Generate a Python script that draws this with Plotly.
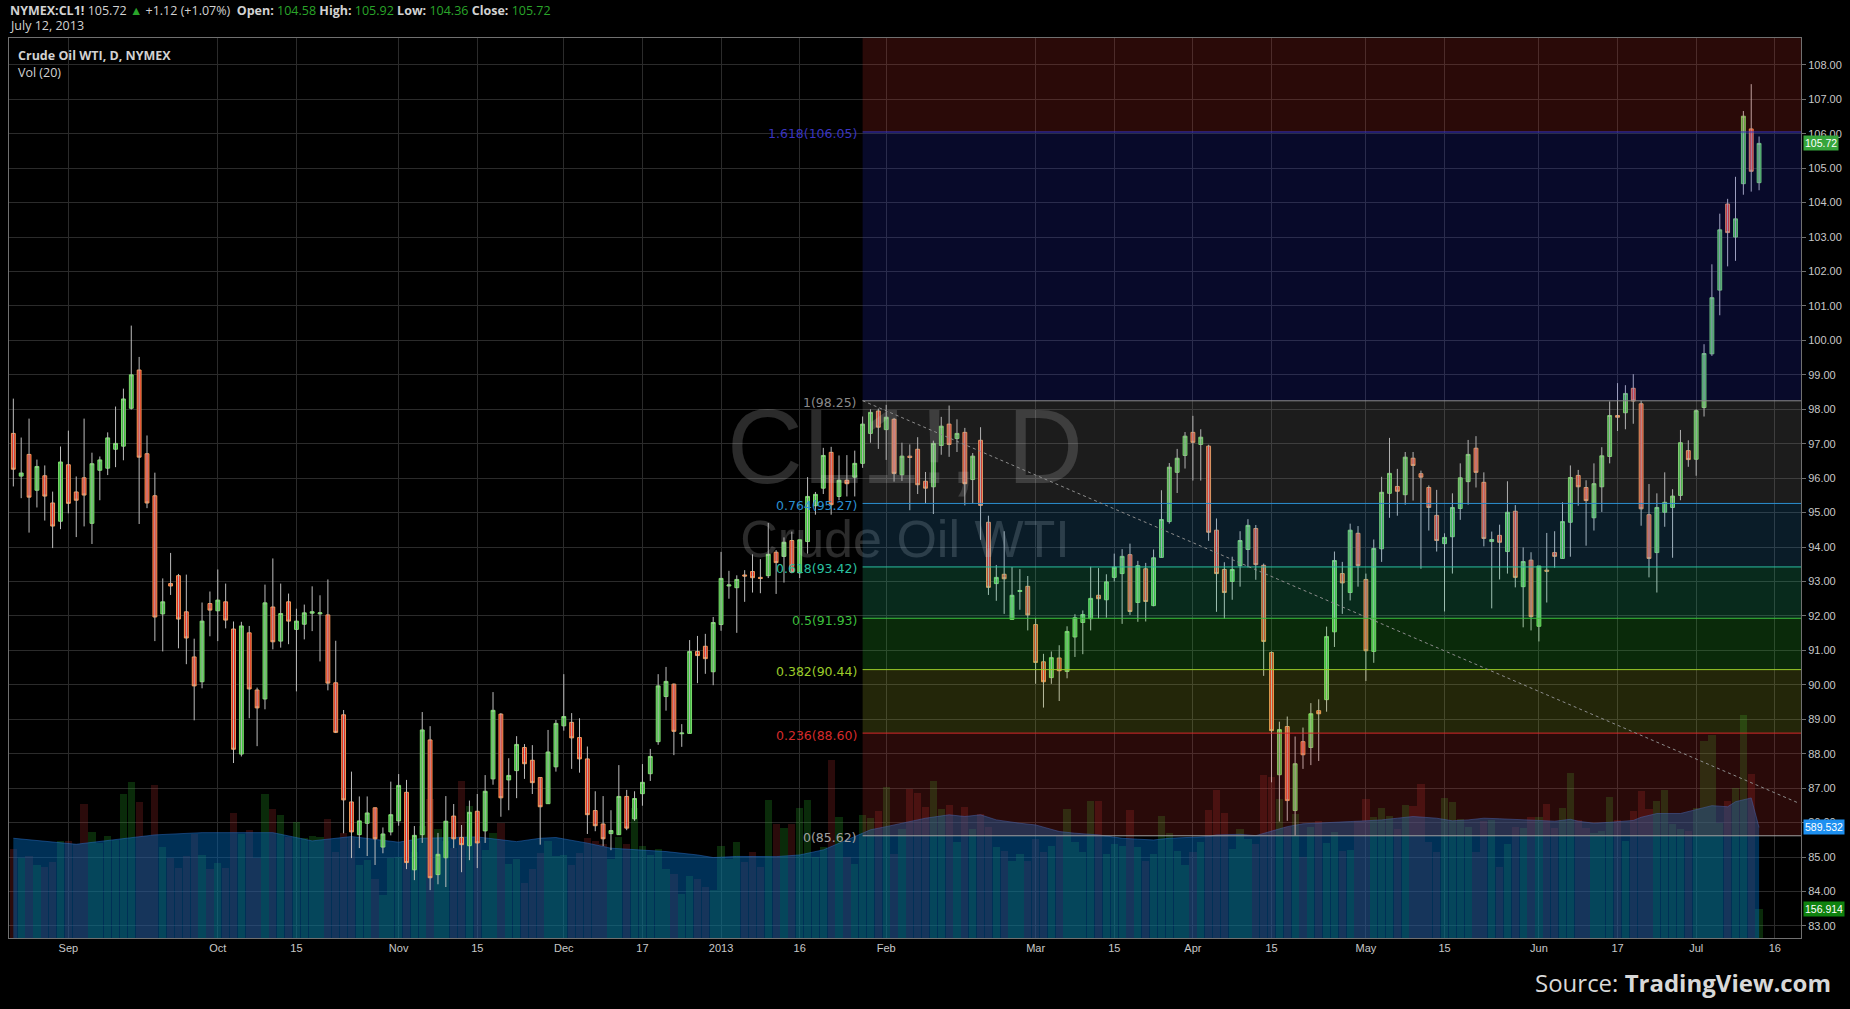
import numpy as np
import pandas as pd
import plotly.graph_objects as go

# trading calendar (NYMEX sessions), used for the bar positions and the date ticks
holidays = ["2012-09-03", "2012-11-22", "2012-12-25", "2013-01-01", "2013-01-21",
            "2013-02-18", "2013-03-29", "2013-05-27", "2013-07-04"]
sessions = [d.strftime("%Y-%m-%d") for d in pd.bdate_range("2012-08-23", "2013-07-31")
            if d.strftime("%Y-%m-%d") not in holidays]
bar_of = {d: i for i, d in enumerate(sessions)}

# daily OHLC, 2012-08-23 .. 2013-07-12
opens = [
    97.30, 96.06, 96.69, 95.65, 96.07, 95.28, 94.75, 96.39, 95.60, 96.01,
    94.69, 96.23, 96.29, 96.84, 96.93, 98.03, 99.14, 96.71, 95.49, 92.06,
    92.94, 93.17, 92.12, 90.81, 90.09, 92.36, 92.15, 92.41, 91.62, 87.99,
    91.51, 89.85, 89.59, 92.26, 91.27, 92.41, 91.61, 91.76, 92.08, 92.06,
    92.03, 90.06, 89.13, 86.60, 85.65, 85.98, 86.43, 85.29, 85.73, 86.05,
    86.88, 84.63, 85.65, 88.40, 84.49, 84.98, 86.19, 85.57, 85.33, 86.33,
    85.76, 87.27, 89.15, 87.24, 87.51, 88.18, 87.81, 87.31, 86.55, 87.62,
    88.81, 88.91, 88.47, 87.85, 86.35, 85.96, 85.68, 85.65, 86.76, 86.11,
    86.84, 87.42, 88.35, 89.66, 90.02, 88.58, 88.59, 90.97, 91.12, 90.38,
    91.75, 92.87, 92.82, 93.19, 93.29, 93.12, 93.17, 93.85, 93.73, 94.19,
    93.25, 94.16, 95.20, 95.71, 96.75, 95.47, 95.94, 96.03, 96.43, 97.30,
    97.95, 97.41, 97.71, 96.10, 96.64, 96.84, 95.91, 95.75, 96.95, 97.57,
    97.15, 97.33, 95.96, 97.10, 94.72, 92.94, 93.21, 91.90, 92.71, 92.86,
    91.75, 90.67, 90.21, 90.78, 90.39, 91.39, 91.81, 91.92, 92.60, 92.47,
    93.12, 93.23, 93.78, 92.39, 93.37, 92.30, 93.70, 94.74, 96.17, 96.66,
    97.33, 96.98, 96.93, 94.49, 93.35, 93.00, 93.46, 93.93, 94.54, 93.47,
    90.94, 87.39, 88.79, 86.35, 88.35, 88.18, 89.25, 89.57, 91.54, 93.23,
    92.68, 94.40, 93.06, 90.97, 93.95, 95.56, 95.76, 95.52, 96.58, 96.13,
    95.73, 94.92, 94.10, 94.30, 95.12, 95.90, 96.87, 95.88, 94.16, 94.34,
    93.87, 95.04, 92.85, 93.62, 91.70, 93.33, 93.84, 93.67, 94.72, 96.08,
    95.73, 94.85, 95.75, 96.63, 97.82, 97.90, 98.61, 98.16, 94.94, 93.84,
    95.01, 95.15, 95.50, 96.80, 96.55, 98.05, 99.61, 101.46, 103.96, 103.00,
    104.55, 106.14, 104.58,
]
highs = [
    98.31, 97.18, 97.73, 96.54, 96.37, 95.61, 96.92, 97.38, 96.05, 97.73,
    96.74, 96.63, 97.33, 98.08, 98.60, 100.43, 99.52, 97.24, 96.16, 93.09,
    93.83, 93.22, 93.20, 91.34, 92.39, 92.71, 93.35, 92.94, 91.84, 91.83,
    91.71, 89.92, 92.91, 93.67, 92.94, 92.65, 92.21, 92.33, 92.86, 92.60,
    93.06, 91.28, 89.27, 87.48, 86.76, 86.76, 86.44, 85.86, 87.19, 87.41,
    87.24, 85.90, 89.21, 88.80, 85.70, 86.77, 86.54, 85.93, 86.64, 86.83,
    87.38, 89.79, 89.18, 87.87, 88.51, 88.28, 88.25, 87.31, 88.69, 88.98,
    90.31, 89.18, 89.03, 88.21, 86.91, 86.77, 86.36, 87.67, 86.95, 86.91,
    87.70, 88.14, 90.31, 90.52, 90.04, 88.86, 91.30, 91.42, 91.48, 91.97,
    93.86, 93.31, 93.18, 93.33, 93.79, 93.65, 94.70, 93.91, 94.28, 94.45,
    94.21, 96.03, 95.60, 96.88, 96.91, 96.66, 96.67, 96.80, 97.79, 98.00,
    98.02, 98.13, 97.75, 97.03, 96.98, 97.19, 96.18, 97.09, 97.78, 98.11,
    97.71, 97.46, 96.73, 97.48, 94.91, 93.48, 94.46, 93.42, 93.36, 93.16,
    91.94, 90.90, 90.97, 91.15, 91.70, 92.05, 92.16, 93.43, 93.39, 93.21,
    93.81, 93.94, 94.10, 93.60, 93.54, 93.93, 95.65, 96.44, 96.85, 97.34,
    97.81, 97.42, 96.97, 94.83, 93.56, 93.72, 94.46, 94.81, 94.64, 93.52,
    90.97, 88.93, 89.08, 88.50, 88.76, 89.47, 89.58, 91.69, 93.87, 93.57,
    94.68, 94.61, 93.23, 94.22, 96.04, 97.17, 96.27, 96.76, 96.76, 96.22,
    95.79, 95.66, 94.40, 95.56, 96.43, 97.11, 97.22, 96.17, 94.45, 94.65,
    95.91, 95.22, 93.99, 93.85, 93.45, 94.41, 94.46, 95.30, 96.37, 96.24,
    95.94, 96.43, 96.90, 98.23, 98.76, 98.70, 99.02, 98.25, 95.83, 95.56,
    96.17, 95.68, 97.40, 97.10, 98.00, 99.89, 102.21, 103.68, 104.11, 104.75,
    106.66, 107.44, 105.92,
]
lows = [
    95.76, 95.42, 94.42, 95.15, 94.77, 93.97, 94.52, 94.98, 94.29, 94.60,
    94.09, 95.36, 96.09, 96.32, 96.52, 97.99, 94.67, 95.13, 91.27, 90.97,
    92.61, 91.06, 90.60, 88.97, 89.90, 91.41, 91.27, 91.64, 87.73, 87.92,
    89.03, 88.22, 89.29, 91.03, 91.08, 91.18, 89.81, 91.32, 91.56, 90.68,
    89.84, 88.60, 85.69, 84.97, 85.26, 85.03, 84.77, 85.11, 85.63, 85.91,
    84.65, 84.33, 85.41, 84.04, 84.21, 84.13, 85.26, 84.56, 84.91, 84.68,
    85.41, 87.10, 86.17, 86.36, 86.71, 87.27, 86.83, 85.36, 86.55, 87.48,
    88.67, 87.56, 87.45, 85.67, 85.75, 85.32, 85.20, 85.65, 85.78, 86.05,
    86.49, 87.21, 88.26, 89.25, 87.96, 88.20, 88.59, 90.05, 90.32, 89.99,
    91.57, 92.50, 91.51, 92.41, 92.68, 92.66, 93.10, 92.64, 92.97, 93.24,
    93.10, 93.81, 94.94, 95.54, 94.94, 95.36, 95.47, 95.47, 96.30, 97.03,
    96.85, 96.53, 95.90, 95.92, 95.07, 95.54, 95.26, 94.96, 96.68, 96.62,
    96.76, 95.21, 95.27, 94.21, 92.61, 92.44, 92.06, 91.90, 92.18, 91.58,
    90.03, 89.34, 90.03, 89.53, 90.19, 90.81, 90.89, 91.58, 91.92, 91.95,
    93.00, 91.77, 92.03, 91.83, 91.84, 92.28, 93.70, 94.68, 95.57, 96.28,
    95.93, 95.93, 94.18, 92.12, 91.92, 92.47, 92.85, 93.41, 93.05, 90.26,
    87.17, 86.03, 86.05, 85.62, 87.56, 87.67, 87.79, 89.22, 91.10, 92.06,
    92.45, 92.85, 90.11, 90.64, 93.57, 94.85, 94.91, 95.23, 95.35, 93.37,
    94.48, 93.87, 92.13, 93.23, 94.79, 95.23, 95.73, 94.02, 92.22, 93.06,
    93.23, 92.83, 91.67, 91.58, 91.26, 92.39, 93.40, 93.67, 93.72, 95.20,
    94.04, 94.48, 95.02, 96.43, 97.37, 97.42, 97.58, 94.62, 93.12, 92.68,
    94.59, 93.69, 95.36, 96.33, 96.07, 97.79, 99.55, 100.73, 102.15, 102.31,
    104.23, 104.32, 104.36,
]
closes = [
    96.26, 96.15, 95.45, 96.34, 95.48, 94.61, 96.47, 95.27, 95.36, 95.51,
    96.42, 96.53, 97.17, 97.01, 98.30, 99.00, 96.61, 95.28, 91.97, 92.41,
    92.87, 91.91, 91.36, 89.97, 91.85, 92.17, 92.46, 91.88, 88.13, 91.71,
    89.88, 89.33, 92.38, 91.25, 92.07, 91.85, 91.85, 92.09, 92.12, 92.09,
    90.05, 88.62, 86.66, 85.73, 86.05, 86.28, 85.53, 85.67, 86.23, 87.08,
    84.84, 85.63, 88.69, 84.40, 85.08, 86.04, 85.53, 85.36, 86.30, 85.41,
    86.91, 89.26, 86.72, 87.37, 88.27, 87.71, 87.16, 86.46, 88.05, 88.88,
    89.08, 88.46, 87.85, 86.23, 85.91, 85.53, 85.77, 86.76, 85.84, 86.70,
    87.17, 87.92, 89.97, 90.10, 88.65, 88.60, 90.97, 90.85, 90.76, 91.81,
    93.09, 92.90, 93.06, 93.16, 93.11, 93.09, 93.79, 93.55, 94.14, 93.27,
    94.21, 95.47, 95.53, 96.66, 95.23, 95.94, 95.84, 96.43, 97.57, 97.91,
    97.48, 97.77, 96.14, 96.64, 96.60, 95.81, 95.71, 97.01, 97.51, 96.98,
    97.30, 95.84, 96.64, 95.21, 92.83, 93.12, 93.08, 92.60, 92.74, 92.03,
    90.65, 90.09, 90.79, 90.41, 91.55, 91.95, 92.04, 92.51, 92.50, 92.99,
    93.42, 93.73, 92.13, 93.46, 92.42, 93.69, 94.80, 96.32, 96.58, 97.22,
    97.04, 97.19, 94.43, 93.23, 92.68, 93.35, 94.19, 94.63, 93.49, 91.26,
    88.67, 88.70, 86.64, 87.71, 87.97, 89.16, 89.16, 91.40, 93.61, 92.96,
    94.49, 93.46, 90.99, 93.96, 95.59, 96.14, 95.62, 96.61, 96.37, 96.03,
    95.15, 94.19, 94.28, 95.15, 96.01, 96.69, 96.17, 94.25, 94.22, 94.14,
    95.01, 93.12, 93.58, 91.98, 93.45, 93.30, 93.73, 94.74, 96.02, 95.75,
    95.35, 95.84, 96.65, 97.82, 97.77, 98.46, 98.24, 95.11, 93.67, 95.15,
    95.30, 95.48, 97.03, 96.54, 97.96, 99.62, 101.24, 103.21, 103.13, 103.53,
    106.51, 104.91, 105.72,
]
# volume, thousands of contracts
volumes = [
    475, 426, 440, 387, 378, 408, 520, 520, 500, 716,
    567, 505, 546, 525, 769, 832, 726, 544, 816, 488,
    429, 371, 440, 555, 445, 366, 398, 371, 668, 555,
    578, 429, 769, 689, 657, 537, 620, 534, 546, 539,
    636, 461, 560, 540, 392, 417, 313, 230, 428, 430,
    520, 460, 600, 740, 581, 520, 480, 838, 705, 520,
    470, 560, 615, 396, 420, 293, 366, 454, 520, 435,
    445, 387, 454, 532, 516, 502, 420, 537, 502, 696,
    493, 445, 475, 369, 343, 237, 329, 313, 272, 254,
    493, 420, 514, 403, 461, 380, 735, 608, 587, 608,
    693, 735, 431, 484, 952, 643, 431, 396, 656, 640,
    679, 806, 449, 581, 793, 776, 700, 838, 687, 709,
    511, 700, 581, 661, 594, 484, 466, 413, 449, 413,
    528, 458, 493, 546, 687, 511, 458, 731, 731, 449,
    502, 493, 682, 484, 413, 449, 652, 558, 466, 392,
    458, 514, 682, 788, 666, 475, 581, 528, 502, 868,
    861, 740, 590, 661, 431, 590, 626, 505, 564, 466,
    470, 626, 740, 647, 693, 652, 581, 709, 705, 820,
    511, 458, 746, 723, 634, 590, 461, 626, 629, 378,
    502, 590, 585, 643, 643, 713, 585, 692, 878, 627,
    589, 559, 569, 754, 627, 517, 678, 785, 688, 730,
    791, 610, 579, 571, 692, 1053, 1084, 616, 730, 798,
    1187, 874, 156.914,
]
# Vol (20) moving average, read at these bars
ma_bar = [0, 8, 18, 24, 33, 38, 43, 49, 52, 59, 64, 67, 69, 73, 76, 80, 83, 87, 89, 92,
          97, 100, 103, 106, 109, 111, 113, 116, 119, 121, 123, 125, 128, 130, 133, 135, 138, 141, 143, 145,
          147, 149, 152, 153, 156, 158, 160, 162, 164, 166, 168, 170, 172, 174, 176, 178, 181, 183, 185, 187,
          189, 191, 194, 196, 198, 199, 201, 203, 206, 207, 209, 212, 214, 216, 218, 219, 221, 222]
ma_value = [532, 500, 550, 562, 562, 518, 541, 511, 532, 539, 514, 532, 536, 506, 479, 470, 461, 443, 429, 435,
            434, 443, 470, 523, 577, 594, 612, 639, 657, 648, 657, 630, 612, 603, 568, 559, 550, 532, 527, 523,
            532, 536, 541, 550, 553, 546, 568, 594, 609, 612, 616, 621, 625, 630, 639, 648, 639, 625, 630, 639,
            636, 631, 627, 623, 633, 623, 612, 617, 627, 644, 664, 664, 685, 706, 700, 727, 747, 589.532]

tick_dates = ["2012-09-04", "2012-10-01", "2012-10-15", "2012-11-01", "2012-11-15", "2012-12-03",
              "2012-12-17", "2013-01-02", "2013-01-16", "2013-02-01", "2013-03-01", "2013-03-15",
              "2013-04-01", "2013-04-15", "2013-05-01", "2013-05-15", "2013-06-03", "2013-06-17",
              "2013-07-01", "2013-07-16"]
tick_text = ["Sep", "Oct", "15", "Nov", "15", "Dec", "17", "2013", "16", "Feb", "Mar", "15",
             "Apr", "15", "May", "15", "Jun", "17", "Jul", "16"]

# fibonacci retracement drawing
fib_start = "2013-01-29"
fib_high = 98.247
fib_low = 85.618
fib_levels = [0, 0.236, 0.382, 0.5, 0.618, 0.764, 1, 1.618]
fib_line_colors = ["#a0a0a0", "#d42a2a", "#9ccc2a", "#3cbf3c", "#2ac0a0", "#2a8fd0", "#8a8a8a", "#3a34c0"]
fib_fill_colors = ["rgba(205,50,45,0.2)", "rgba(175,190,45,0.2)", "rgba(50,210,50,0.2)",
                   "rgba(40,210,140,0.2)", "rgba(50,140,200,0.2)", "rgba(140,140,140,0.2)",
                   "rgba(40,50,210,0.2)", "rgba(210,50,40,0.2)"]
trend_points = [("2013-01-29", 98.25), ("2013-07-19", 86.57)]

XMIN, XMAX = -0.55, 227.33
PMIN, PMAX = 82.65, 108.78
VMAX = 4800

o = np.array(opens); h = np.array(highs); l = np.array(lows); c = np.array(closes)
bars = np.arange(len(o))
up = c >= o

fig = go.Figure()

# watermark, drawn first so the candles sit on top of it
mid = (XMIN + XMAX) / 2
fig.add_trace(go.Scatter(x=[mid], y=[96.62], mode="text", text=["CL1!, D"], yaxis="y2",
                         textfont=dict(family="Liberation Sans, Arial", size=105, color="rgba(255,255,255,0.17)"),
                         hoverinfo="skip"))
fig.add_trace(go.Scatter(x=[mid], y=[94.1], mode="text", text=["Crude Oil WTI"], yaxis="y2",
                         textfont=dict(family="Liberation Sans, Arial", size=52, color="rgba(255,255,255,0.17)"),
                         hoverinfo="skip"))

# volume pane
fig.add_trace(go.Bar(x=bars, y=volumes, yaxis="y", width=0.92,
                     marker=dict(color=np.where(up, "rgba(40,170,40,0.25)", "rgba(170,45,45,0.25)"),
                                 line_width=0),
                     hoverinfo="skip"))
fig.add_trace(go.Scatter(x=ma_bar, y=ma_value, yaxis="y", mode="lines", fill="tozeroy",
                         fillcolor="rgba(0,100,180,0.48)",
                         line=dict(color="rgba(40,110,200,0.5)", width=1), hoverinfo="skip"))

# wicks
wx = np.repeat(bars, 3).astype(float)
wy = np.column_stack([l, h, np.full(len(l), np.nan)]).ravel()
wx[2::3] = np.nan
fig.add_trace(go.Scatter(x=wx, y=wy, yaxis="y2", mode="lines",
                         line=dict(color="#bcbcbc", width=1), hoverinfo="skip"))

# bodies
fig.add_trace(go.Candlestick(
    x=bars, open=o, close=c, high=np.maximum(o, c), low=np.minimum(o, c), yaxis="y2",
    increasing=dict(fillcolor="#3cb83c", line=dict(color="#7ddc6e", width=1)),
    decreasing=dict(fillcolor="#e0261c", line=dict(color="#f39a5a", width=1)),
    whiskerwidth=0, hoverinfo="skip"))

# fibonacci zones and lines
fx = bar_of[fib_start]
prices = [fib_low + lv * (fib_high - fib_low) for lv in fib_levels]
shapes = []
tops = prices[1:] + [PMAX]
for y0, y1, fc in zip(prices, tops, fib_fill_colors):
    shapes.append(dict(type="rect", xref="x", yref="y2", x0=fx, x1=XMAX, y0=y0, y1=y1,
                       fillcolor=fc, line_width=0, layer="above"))
for p, lc in zip(prices, fib_line_colors):
    shapes.append(dict(type="line", xref="x", yref="y2", x0=fx, x1=XMAX, y0=p, y1=p,
                       line=dict(color=lc, width=1), layer="above"))
(t0, p0), (t1, p1) = trend_points
shapes.append(dict(type="line", xref="x", yref="y2", x0=bar_of[t0], x1=bar_of[t1], y0=p0, y1=p1,
                   line=dict(color="#8c8c8c", width=1, dash="3px,3px"), layer="above"))

annotations = []
for lv, p, lc in zip(fib_levels, prices, fib_line_colors):
    annotations.append(dict(x=fx, y=p, xref="x", yref="y2", xanchor="right", yanchor="middle",
                            xshift=-4, yshift=-2, showarrow=False, text=f"{lv:g}({p:.2f})",
                            font=dict(family="DejaVu Sans", size=12.5, color=lc)))

# header and pane titles (page coordinates converted to the plot area)
def px(xr):
    return (xr - 8) / 1795

def py(yr):
    return (938 - yr) / 900

g = "#2aa52a"
sp = "\u00a0"
head = (f"<b>NYMEX:CL1!</b> 105.72 <span style='color:{g}'>▲</span> +1.12 (+1.07%){sp}{sp}"
        f"<b>Open:</b> <span style='color:{g}'>104.58</span>{sp}<b>High:</b> <span style='color:{g}'>105.92</span>"
        f"{sp}<b>Low:</b> <span style='color:{g}'>104.36</span>{sp}<b>Close:</b> <span style='color:{g}'>105.72</span>")
txt = dict(family="Open Sans, Liberation Sans", size=12.5, color="#d2d2d2")
annotations += [
    dict(x=px(7), y=py(11), xref="paper", yref="paper", xanchor="left", yanchor="middle",
         showarrow=False, text=head, font=txt),
    dict(x=px(7), y=py(26), xref="paper", yref="paper", xanchor="left", yanchor="middle",
         showarrow=False, text="July 12, 2013", font=txt),
    dict(x=px(15), y=py(55.5), xref="paper", yref="paper", xanchor="left", yanchor="middle",
         showarrow=False, text="<b>Crude Oil WTI, D, NYMEX</b>", font=txt),
    dict(x=px(15), y=py(73), xref="paper", yref="paper", xanchor="left", yanchor="middle",
         showarrow=False, text="Vol (20)", font=txt),
    dict(x=px(1835), y=py(982), xref="paper", yref="paper", xanchor="right", yanchor="middle",
         showarrow=False, text="Source: <b>TradingView.com</b>",
         font=dict(family="Open Sans, Liberation Sans", size=24, color="#d8d8d8")),
]

# last value tags on the price scale
tag_font = dict(family="Liberation Sans, Arial", size=10.5, color="white")
annotations += [
    dict(x=1, y=closes[-1], xref="paper", yref="y2", xanchor="left", yanchor="middle", xshift=2,
         showarrow=False, text=f"{closes[-1]:.2f}", bgcolor="#36a53c", borderpad=1, font=tag_font),
    dict(x=1, y=ma_value[-1], xref="paper", yref="y", xanchor="left", yanchor="middle", xshift=2,
         showarrow=False, text=f"{ma_value[-1]:.3f}", bgcolor="#1e90f0", borderpad=1, font=tag_font),
    dict(x=1, y=volumes[-1], xref="paper", yref="y", xanchor="left", yanchor="middle", xshift=2,
         showarrow=False, text=f"{volumes[-1]:.3f}", bgcolor="#0f820f", borderpad=1, font=tag_font),
]

grid = "#2b2b2b"
fig.update_layout(
    width=1850, height=1009,
    margin=dict(l=8, r=47, t=38, b=71),
    paper_bgcolor="black", plot_bgcolor="black",
    showlegend=False, boxgap=0.3, bargap=0,
    font=dict(family="Liberation Sans, Arial", size=11, color="#c8c8c8"),
    shapes=shapes, annotations=annotations,
    xaxis=dict(range=[XMIN, XMAX], tickmode="array",
               tickvals=[bar_of[d] for d in tick_dates], ticktext=tick_text,
               showgrid=True, gridcolor=grid, zeroline=False, showline=True, mirror=True,
               linecolor="#707070", ticks="", rangeslider=dict(visible=False),
               tickfont=dict(size=11, color="#c8c8c8")),
    yaxis=dict(range=[0, VMAX], visible=False, showgrid=False, zeroline=False),
    yaxis2=dict(range=[PMIN, PMAX], overlaying="y", side="right", tick0=83, dtick=1,
                tickformat=".2f", showgrid=True, gridcolor=grid, zeroline=False,
                showline=True, mirror=True, linecolor="#707070",
                ticks="outside", ticklen=4, tickcolor="#707070",
                tickfont=dict(size=11, color="#c8c8c8")),
)

# drop the default 8px page margin so the figure sits at the window's corner; no toolbar
fig.write_html("out.html", config={"displayModeBar": False},
               post_script="document.body.style.margin='0px';")
